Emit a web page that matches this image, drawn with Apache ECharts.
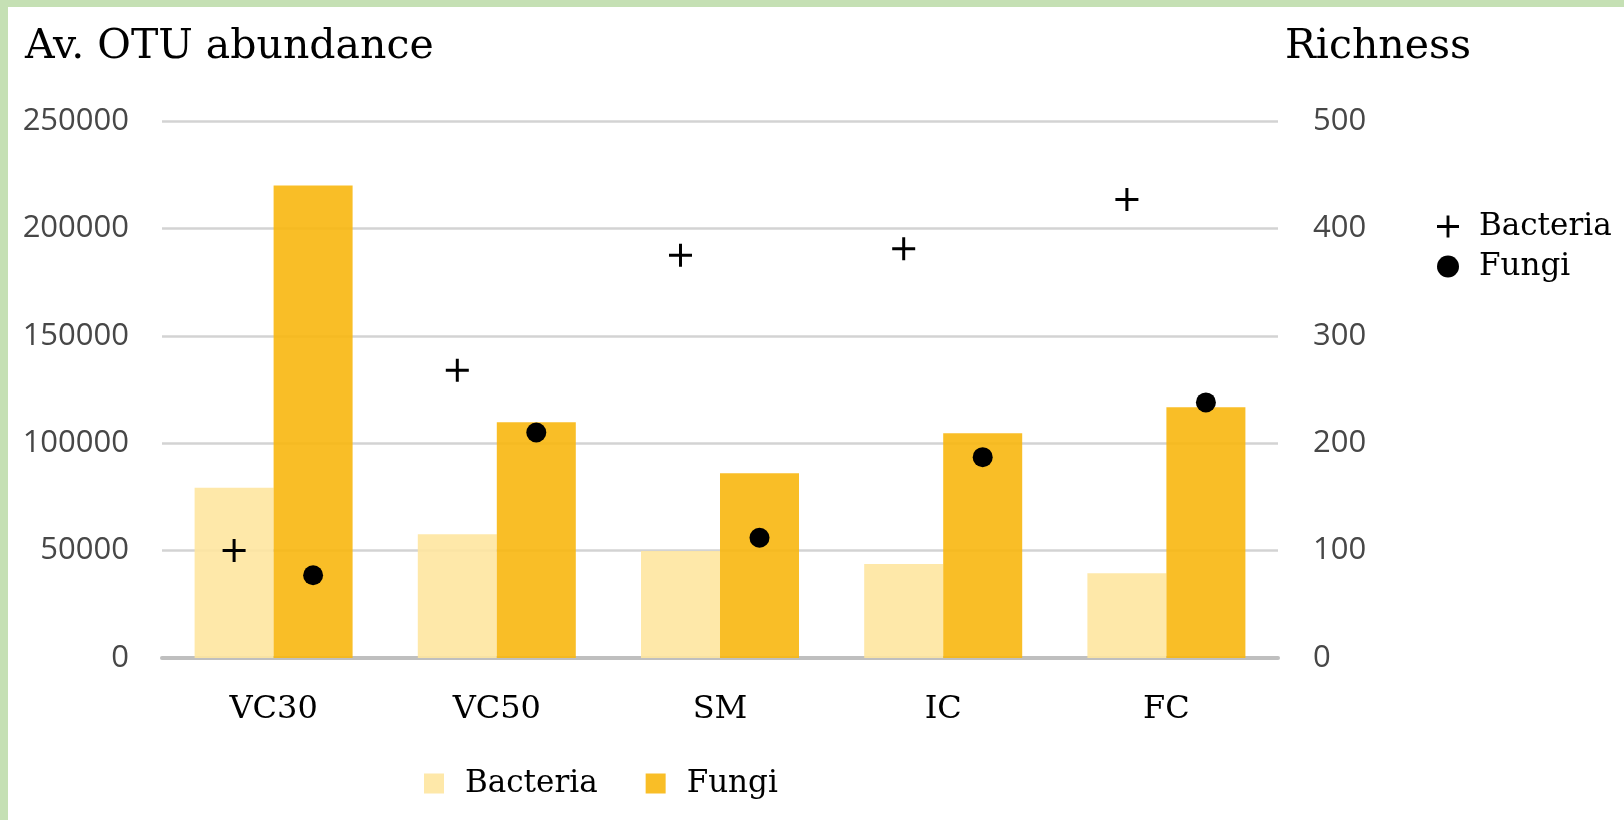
<!DOCTYPE html>
<html>
<head>
<meta charset="utf-8">
<script src="https://cdn.jsdelivr.net/npm/echarts@6/dist/echarts.min.js"></script>
<style>
  html, body { margin: 0; padding: 0; background: #ffffff; }
  #chart { position: absolute; left: 0; top: 0; width: 1624px; height: 820px; }
  .edge { position: absolute; background: #C5E0B4; pointer-events: none; }
</style>
</head>
<body>
<div id="chart"></div>
<div class="edge" style="left:0;top:0;width:1624px;height:7px"></div>
<div class="edge" style="left:0;top:0;width:8px;height:820px"></div>
<script>
// Sampling sites
const categories = ['VC30', 'VC50', 'SM', 'IC', 'FC'];

// Average OTU abundance (left axis)
const bacteriaAbundance = [79300, 57600, 49800, 43800, 39400];
const fungiAbundance = [220000, 109700, 86000, 104600, 116700];

// Richness (right axis)
const bacteriaRichness = [100, 268, 375, 381, 427];
const fungiRichness = [77, 210, 112, 187, 238];

// Axis ranges and ticks
const abundanceTicks = [0, 50000, 100000, 150000, 200000, 250000];
const richnessTicks = [0, 100, 200, 300, 400, 500];

const SERIF = 'DejaVu Serif';
const SANS = 'Open Sans';
const BAR_W = 79;
const PLUS = 'path://M43.5,0H56.5V43.5H100V56.5H56.5V100H43.5V56.5H0V43.5H43.5Z';

const chart = echarts.init(document.getElementById('chart'));

chart.setOption({
  animation: false,
  backgroundColor: '#ffffff',
  title: [
    { text: 'Av. OTU abundance', left: 20, top: 22,
      textStyle: { fontFamily: SERIF, fontSize: 41, fontWeight: 'normal', color: '#000' } },
    { text: 'Richness', left: 1280, top: 22,
      textStyle: { fontFamily: SERIF, fontSize: 41, fontWeight: 'normal', color: '#000' } }
  ],
  grid: { left: 162, right: 346, top: 121, bottom: 162, containLabel: false },
  legend: [
    {
      data: ['Bacteria', 'Fungi'],
      left: 419, top: 763,
      itemWidth: 20, itemHeight: 20, itemGap: 48,
      icon: 'rect',
      textStyle: { fontFamily: SERIF, fontSize: 31, color: '#000', padding: [0, 0, 0, 16] }
    },
    {
      data: [
        { name: 'Bacteria richness', icon: PLUS },
        { name: 'Fungi richness', icon: 'circle' }
      ],
      orient: 'vertical',
      left: 1432, top: 206,
      itemWidth: 22, itemHeight: 22, itemGap: 9,
      formatter: n => n.replace(' richness', ''),
      textStyle: { fontFamily: SERIF, fontSize: 31, color: '#000', padding: [0, 0, 0, 15] }
    }
  ],
  xAxis: {
    type: 'category',
    data: categories,
    axisTick: { show: false },
    axisLine: { lineStyle: { color: '#BFBFBF', width: 4 } },
    axisLabel: { fontFamily: SERIF, fontSize: 32, color: '#000', margin: 36 }
  },
  yAxis: [
    {
      type: 'value',
      min: abundanceTicks[0],
      max: abundanceTicks[abundanceTicks.length - 1],
      interval: abundanceTicks[1] - abundanceTicks[0],
      axisLine: { show: false },
      axisTick: { show: false },
      splitLine: { lineStyle: { color: '#D3D3D3', width: 2.5 } },
      axisLabel: { fontFamily: SANS, fontSize: 31, color: '#474747', margin: 33,
        formatter: v => String(v) }
    },
    {
      type: 'value',
      position: 'right',
      min: richnessTicks[0],
      max: richnessTicks[richnessTicks.length - 1],
      interval: richnessTicks[1] - richnessTicks[0],
      axisLine: { show: false },
      axisTick: { show: false },
      splitLine: { show: false },
      axisLabel: { fontFamily: SANS, fontSize: 31, color: '#474747', margin: 35,
        formatter: v => String(v) }
    }
  ],
  series: [
    {
      name: 'Bacteria', type: 'bar', yAxisIndex: 0,
      data: bacteriaAbundance, barWidth: BAR_W, barGap: '0%',
      itemStyle: { color: 'rgba(254,229,160,0.9)' }
    },
    {
      name: 'Fungi', type: 'bar', yAxisIndex: 0,
      data: fungiAbundance, barWidth: BAR_W, barGap: '0%',
      itemStyle: { color: 'rgba(248,183,16,0.9)' }
    },
    {
      name: 'Bacteria richness', type: 'scatter', yAxisIndex: 1,
      data: bacteriaRichness, symbol: PLUS, symbolSize: 23,
      symbolOffset: [-BAR_W / 2, 0],
      itemStyle: { color: '#000', opacity: 1 }
    },
    {
      name: 'Fungi richness', type: 'scatter', yAxisIndex: 1,
      data: fungiRichness, symbol: 'circle', symbolSize: 20,
      symbolOffset: [BAR_W / 2, 0],
      itemStyle: { color: '#000', opacity: 1 }
    }
  ]
});
</script>
</body>
</html>
